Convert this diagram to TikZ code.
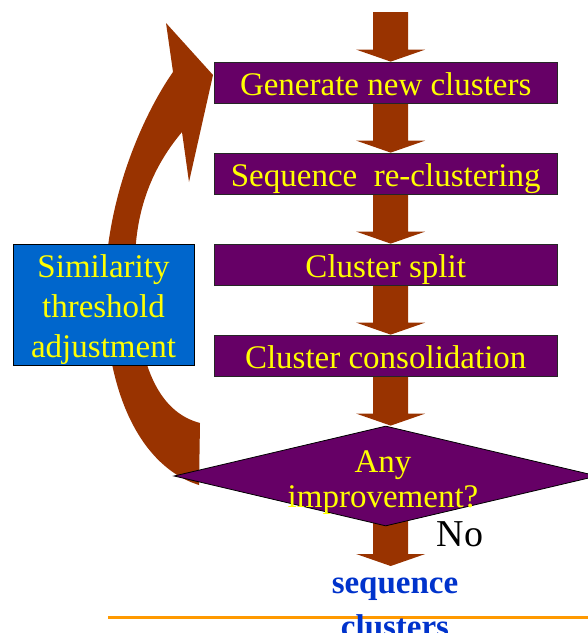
\documentclass[tikz,border=0pt]{standalone}
\usepackage{fontspec}
\setmainfont{Liberation Serif}
\usetikzlibrary{calc,shapes.geometric}
\pgfdeclarelayer{background}
\pgfsetlayers{background,main}
\definecolor{flowbrown}{HTML}{993300}
\definecolor{boxpurple}{HTML}{660066}
\definecolor{boxblue}{HTML}{0066CC}
\definecolor{textyellow}{HTML}{FFFF00}
\definecolor{outblue}{HTML}{0033CC}
\definecolor{lineorange}{HTML}{FF9900}
\newcommand{\blockarrow}[2]{%
  \fill[flowbrown] ($(#1)+(-12.5,0)$) -- ($(#2)+(-12.5,-12)$) -- ($(#2)+(-29.5,-12)$)
    -- ($(#2)+(5,0)$) -- ($(#2)+(39.5,-12)$) -- ($(#2)+(22.5,-12)$) -- ($(#1)+(22.5,0)$) -- cycle;}
\begin{document}
\begin{tikzpicture}[x=1pt,y=-1pt,
  stepbox/.style={draw=black!85, line width=0.8pt, fill=boxpurple, text=textyellow,
    minimum width=343pt, minimum height=41pt, inner sep=0pt,
    text height=29pt, text depth=4pt, font=\fontsize{33}{40}\selectfont},
  adjbox/.style={draw=black, line width=0.8pt, fill=boxblue, text=textyellow,
    minimum width=181pt, minimum height=121pt, inner sep=0pt, align=center,
    font=\fontsize{33}{40}\selectfont},
  decision/.style={diamond, draw=black, line width=0.8pt, fill=boxpurple,
    minimum width=423.4pt, minimum height=100pt, inner sep=0pt},
  dlabel/.style={text=textyellow, align=center, inner sep=0pt, anchor=north,
    font=\fontsize{33}{35}\selectfont},
  nolabel/.style={text=black, inner sep=0pt, anchor=base west,
    font=\fontsize{38}{44}\selectfont},
  outlabel/.style={text=outblue, align=center, inner sep=0pt, anchor=north,
    font=\bfseries\fontsize{33}{44}\selectfont}]
\useasboundingbox (0,0) rectangle (588,633);

\coordinate (top) at (385.7,12);
\coordinate (outend) at (385.7,566);

\node[stepbox] (b1) at (385.7,82.5) {Generate new clusters};
\node[stepbox] (b2) at (385.7,173.5) {Sequence \ re-clustering};
\node[stepbox] (b3) at (385.7,264.5) {Cluster split};
\node[stepbox] (b4) at (385.7,355.5) {Cluster consolidation};
\node[decision] (d) at (385.7,476) {};
\node[dlabel] (dtext) at (383,448) {\rule{0pt}{24pt}Any\\improvement?};
\node[adjbox] (adj) at (103.5,304.5) {\rule{0pt}{33pt}Similarity\\threshold\\adjustment\rule[-8pt]{0pt}{0pt}};
\node[nolabel] (no) at (436.5,546) {No};

\begin{pgfonlayer}{background}
  \fill[white] (0,0) rectangle (588,633);
  % feedback curved arrow
  \fill[flowbrown] (199,485) .. controls (150,470) and (108,410) .. (105,300)
    .. controls (103,200) and (145,112) .. (173,72) -- (166,23) -- (213,75)
    -- (189,182) -- (182,132) .. controls (150,170) and (134,215) .. (135,270)
    .. controls (135,345) and (150,410) .. (200,423) -- cycle;
  \blockarrow{top}{b1.north}
  \blockarrow{b1.south}{b2.north}
  \blockarrow{b2.south}{b3.north}
  \blockarrow{b3.south}{b4.north}
  \blockarrow{b4.south}{d.north}
  \blockarrow{d.center}{outend}
\end{pgfonlayer}

\coordinate (lineA) at (108,617);
\coordinate (lineB) at (588,617);
\draw[lineorange, line width=3pt] (lineA) -- (lineB);
\node[outlabel] (res) at (395,568) {\rule{0pt}{25pt}sequence\\clusters};
\end{tikzpicture}
\end{document}
